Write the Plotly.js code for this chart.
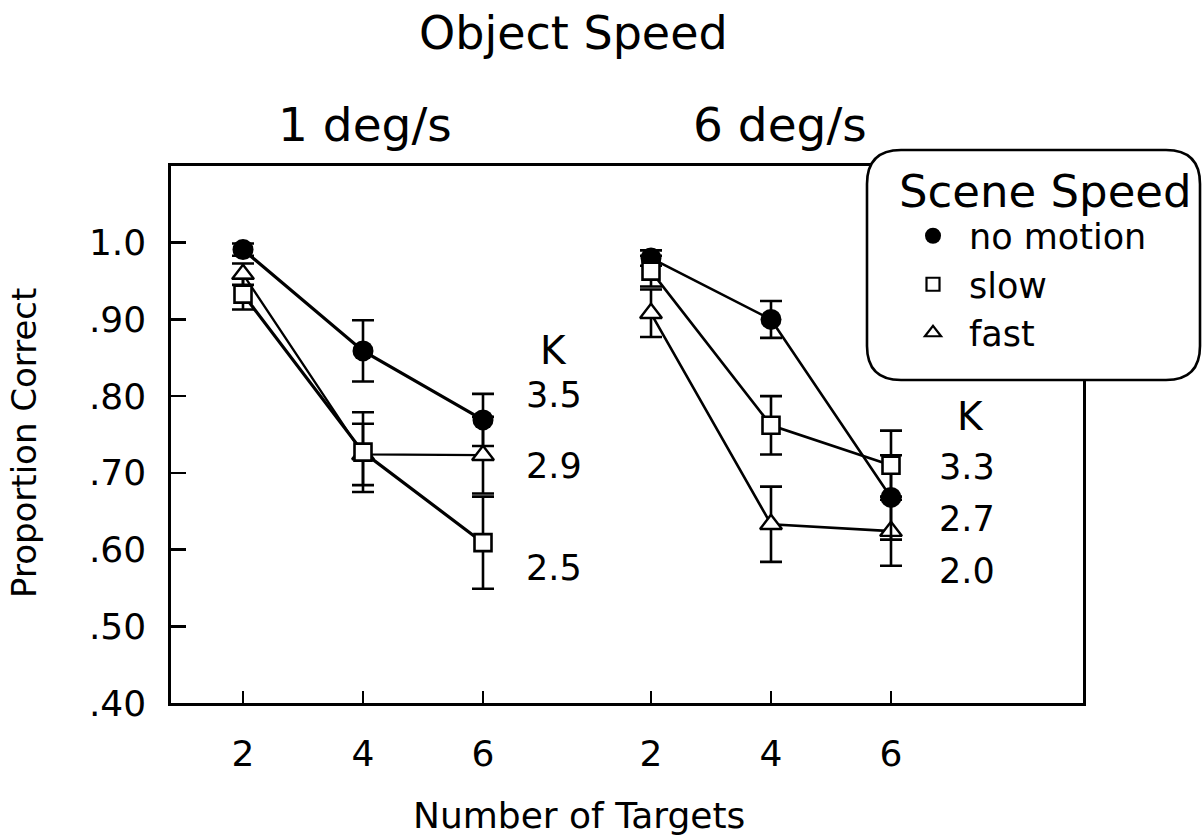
<!DOCTYPE html>
<html>
<head>
<meta charset="utf-8">
<script src="https://cdn.plot.ly/plotly-3.0.1.min.js"></script>
<style>html,body{margin:0;padding:0;background:#fff;}#chart{width:1202px;height:838px;}</style>
</head>
<body>
<div id="chart"></div>
<script>
// ---- data ----
const targets = [2, 4, 6];
const panelNames = ['1 deg/s', '6 deg/s'];
const sceneNames = ['no motion', 'slow', 'fast'];
const tickVals = [2, 4, 6, 8.8, 10.8, 12.8];
const tickText = ['2', '4', '6', '2', '4', '6'];
const yTickVals = [0.4, 0.5, 0.6, 0.7, 0.8, 0.9, 1.0];
const yTickText = ['.40', '.50', '.60', '.70', '.80', '.90', '1.0'];

// Object speed 1 deg/s
const noMotion1 = [0.991, 0.859, 0.769];
const noMotion1Err = [0.008, 0.040, 0.034];
const slow1 = [0.933, 0.727, 0.609];
const slow1Err = [0.020, 0.052, 0.060];
const fast1 = [0.959, 0.724, 0.723];
const fast1Err = [0.014, 0.040, 0.050];

// Object speed 6 deg/s
const noMotion6 = [0.980, 0.900, 0.668];
const noMotion6Err = [0.010, 0.024, 0.055];
const slow6 = [0.963, 0.762, 0.710];
const slow6Err = [0.020, 0.038, 0.045];
const fast6 = [0.908, 0.633, 0.624];
const fast6Err = [0.031, 0.049, 0.045];

const kLeft = ['3.5', '2.9', '2.5'];
const kRight = ['3.3', '2.7', '2.0'];

// ---- layout helpers ----
const W = 1202, H = 838;
const M = {l: 171, r: 119, t: 166, b: 135, autoexpand: false};
const PW = W - M.l - M.r, PH = H - M.t - M.b;
const px = x => (x - M.l) / PW;
const py = y => (H - M.b - y) / PH;
const panelOffset = [0, 6.8];
const FONT = 'DejaVu Sans, Verdana, sans-serif';

const markerStyles = {
  'no motion': {symbol: 'circle', size: 21, color: '#000', line: {color: '#000', width: 0}},
  'slow': {symbol: 'square', size: 17, color: '#fff', line: {color: '#000', width: 2.6}},
  'fast': {symbol: 'triangle-up', size: 19, color: '#fff', line: {color: '#000', width: 2.4}}
};
const legendMarkerStyles = {
  'no motion': {symbol: 'circle', size: 16, color: '#000', line: {color: '#000', width: 0}},
  'slow': {symbol: 'square', size: 13, color: '#fff', line: {color: '#000', width: 2.2}},
  'fast': {symbol: 'triangle-up', size: 14, color: '#fff', line: {color: '#000', width: 2.2}}
};

const series = [
  {scene: 'fast', panel: 0, y: fast1, e: fast1Err, lw: 2.3},
  {scene: 'no motion', panel: 0, y: noMotion1, e: noMotion1Err, lw: 3.2},
  {scene: 'slow', panel: 0, y: slow1, e: slow1Err, lw: 3.2},
  {scene: 'fast', panel: 1, y: fast6, e: fast6Err, lw: 2.6},
  {scene: 'no motion', panel: 1, y: noMotion6, e: noMotion6Err, lw: 2.6},
  {scene: 'slow', panel: 1, y: slow6, e: slow6Err, lw: 2.6}
];

const traces = series.map(s => ({
  type: 'scatter',
  mode: 'lines+markers',
  x: targets.map(t => t + panelOffset[s.panel]),
  y: s.y,
  name: s.scene,
  showlegend: false,
  line: {color: '#000', width: s.lw},
  marker: markerStyles[s.scene],
  error_y: {type: 'data', array: s.e, visible: true, color: '#000', thickness: 2.6, width: 11},
  cliponaxis: false,
  hoverinfo: 'x+y'
}));

// legend-only entries (markers only)
sceneNames.forEach(n => {
  traces.push({
    type: 'scatter', mode: 'markers', x: [null], y: [null], name: n,
    showlegend: true, marker: legendMarkerStyles[n]
  });
});

const annotations = [];
function txt(text, x, y, size, extra) {
  annotations.push(Object.assign({
    text: text, xref: 'paper', yref: 'paper', x: px(x), y: py(y),
    xanchor: 'center', yanchor: 'middle', showarrow: false, borderpad: 0,
    font: {family: FONT, size: size, color: '#000'}
  }, extra || {}));
}
txt('Object Speed', 573, 33, 46);
txt(panelNames[0], 365, 125, 47);
txt(panelNames[1], 780, 125, 47);
txt('K', 553, 350, 39);
txt('K', 970, 416, 39);
const kLeftY = [395, 466, 568];
const kRightY = [467, 519, 571];
kLeft.forEach((k, i) => txt(k, 554, kLeftY[i], 35));
kRight.forEach((k, i) => txt(k, 967, kRightY[i], 35));
txt('Number of Targets', 579, 815, 36);
txt('Proportion Correct', 24, 443, 34, {textangle: -90});

// rounded legend box
const bx0 = 867, bx1 = 1200, by0 = 150, by1 = 380, r = 34;
const P = (x, y) => px(x) + ',' + py(y);
const boxPath = 'M ' + P(bx0 + r, by0) + ' L ' + P(bx1 - r, by0) + ' Q ' + P(bx1, by0) + ' ' + P(bx1, by0 + r) +
  ' L ' + P(bx1, by1 - r) + ' Q ' + P(bx1, by1) + ' ' + P(bx1 - r, by1) +
  ' L ' + P(bx0 + r, by1) + ' Q ' + P(bx0, by1) + ' ' + P(bx0, by1 - r) +
  ' L ' + P(bx0, by0 + r) + ' Q ' + P(bx0, by0) + ' ' + P(bx0 + r, by0) + ' Z';

const layout = {
  width: W, height: H,
  margin: M,
  paper_bgcolor: '#fff', plot_bgcolor: '#fff',
  font: {family: FONT, size: 36, color: '#000'},
  showlegend: true,
  legend: {
    xref: 'container', yref: 'container',
    x: 897 / W, y: 1 - 148 / H, xanchor: 'left', yanchor: 'top',
    bgcolor: 'rgba(0,0,0,0)', borderwidth: 0,
    title: {text: 'Scene Speed', font: {family: FONT, size: 45, color: '#000'}},
    font: {family: FONT, size: 35, color: '#000'},
    itemsizing: 'trace', itemwidth: 62
  },
  xaxis: {
    range: [0.8, 16], tickmode: 'array', tickvals: tickVals, ticktext: tickText,
    showgrid: false, zeroline: false, showline: true, linecolor: '#000', linewidth: 2.6,
    mirror: true, ticks: 'inside', ticklen: 12, tickwidth: 2.6, tickcolor: '#000',
    ticklabelstandoff: 17,
    tickfont: {family: FONT, size: 36, color: '#000'}
  },
  yaxis: {
    range: [0.4, 1.1], tickmode: 'array', tickvals: yTickVals, ticktext: yTickText,
    showgrid: false, zeroline: false, showline: true, linecolor: '#000', linewidth: 2.6,
    mirror: true, ticks: 'inside', ticklen: 15, tickwidth: 2.6, tickcolor: '#000',
    ticklabelstandoff: 15,
    tickfont: {family: FONT, size: 36, color: '#000'}
  },
  shapes: [{
    type: 'path', xref: 'paper', yref: 'paper', path: boxPath,
    fillcolor: '#fff', line: {color: '#000', width: 2.6}, layer: 'above'
  }],
  annotations: annotations
};

Plotly.newPlot('chart', traces, layout, {displayModeBar: false, staticPlot: true});
</script>
</body>
</html>
